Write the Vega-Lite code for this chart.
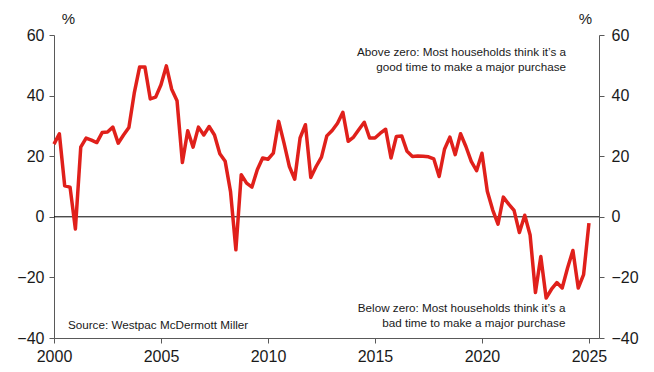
{
  "$schema": "https://vega.github.io/schema/vega-lite/v6.json",
  "width": 545,
  "height": 303,
  "autosize": {"type": "none"},
  "padding": {"left": 54, "top": 35, "right": 55, "bottom": 34},
  "background": "white",
  "config": {
    "view": {"stroke": null},
    "font": "Liberation Sans",
    "axis": {
      "domainColor": "#595959",
      "tickColor": "#595959",
      "tickSize": 5,
      "labelFontSize": 16,
      "labelColor": "#1a1a1a",
      "labelFont": "Liberation Sans",
      "titleFont": "Liberation Sans",
      "grid": false
    }
  },
  "data": {
    "values": [
      {"t": 2000.0, "v": 24}, {"t": 2000.25, "v": 27.4}, {"t": 2000.5, "v": 10.2}, {"t": 2000.75, "v": 9.8},
      {"t": 2001.0, "v": -4}, {"t": 2001.25, "v": 23}, {"t": 2001.5, "v": 26}, {"t": 2001.75, "v": 25.3},
      {"t": 2002.0, "v": 24.5}, {"t": 2002.25, "v": 27.8}, {"t": 2002.5, "v": 28}, {"t": 2002.75, "v": 29.6},
      {"t": 2003.0, "v": 24.3}, {"t": 2003.25, "v": 27}, {"t": 2003.5, "v": 29.5}, {"t": 2003.75, "v": 40.8},
      {"t": 2004.0, "v": 49.4}, {"t": 2004.25, "v": 49.4}, {"t": 2004.5, "v": 38.9}, {"t": 2004.75, "v": 39.5},
      {"t": 2005.0, "v": 43.6}, {"t": 2005.25, "v": 49.8}, {"t": 2005.5, "v": 42.1}, {"t": 2005.75, "v": 38.3},
      {"t": 2006.0, "v": 17.9}, {"t": 2006.25, "v": 28.4}, {"t": 2006.5, "v": 23}, {"t": 2006.75, "v": 29.6},
      {"t": 2007.0, "v": 27}, {"t": 2007.25, "v": 29.8}, {"t": 2007.5, "v": 27}, {"t": 2007.75, "v": 20.8},
      {"t": 2008.0, "v": 18.3}, {"t": 2008.25, "v": 8.3}, {"t": 2008.5, "v": -10.9}, {"t": 2008.75, "v": 13.9},
      {"t": 2009.0, "v": 11.1}, {"t": 2009.25, "v": 9.8}, {"t": 2009.5, "v": 15.5}, {"t": 2009.75, "v": 19.4},
      {"t": 2010.0, "v": 19}, {"t": 2010.25, "v": 21}, {"t": 2010.5, "v": 31.5}, {"t": 2010.75, "v": 24.3},
      {"t": 2011.0, "v": 16.6}, {"t": 2011.25, "v": 12.4}, {"t": 2011.5, "v": 26}, {"t": 2011.75, "v": 30.4},
      {"t": 2012.0, "v": 13}, {"t": 2012.25, "v": 16.6}, {"t": 2012.5, "v": 19.7}, {"t": 2012.75, "v": 26.7},
      {"t": 2013.0, "v": 28.5}, {"t": 2013.25, "v": 30.9}, {"t": 2013.5, "v": 34.5}, {"t": 2013.75, "v": 24.9},
      {"t": 2014.0, "v": 26.3}, {"t": 2014.25, "v": 28.8}, {"t": 2014.5, "v": 31.2}, {"t": 2014.75, "v": 26},
      {"t": 2015.0, "v": 26}, {"t": 2015.25, "v": 27.6}, {"t": 2015.5, "v": 28.9}, {"t": 2015.75, "v": 19.4},
      {"t": 2016.0, "v": 26.5}, {"t": 2016.25, "v": 26.7}, {"t": 2016.5, "v": 21.6}, {"t": 2016.75, "v": 19.9},
      {"t": 2017.0, "v": 20.1}, {"t": 2017.25, "v": 20}, {"t": 2017.5, "v": 19.8}, {"t": 2017.75, "v": 19.1},
      {"t": 2018.0, "v": 13.3}, {"t": 2018.25, "v": 22.3}, {"t": 2018.5, "v": 26.3}, {"t": 2018.75, "v": 20.5},
      {"t": 2019.0, "v": 27.4}, {"t": 2019.25, "v": 23.2}, {"t": 2019.5, "v": 18.3}, {"t": 2019.75, "v": 15.2},
      {"t": 2020.0, "v": 21}, {"t": 2020.25, "v": 8.4}, {"t": 2020.5, "v": 2.3}, {"t": 2020.75, "v": -2.4},
      {"t": 2021.0, "v": 6.5}, {"t": 2021.25, "v": 4.2}, {"t": 2021.5, "v": 2.1}, {"t": 2021.75, "v": -5.2},
      {"t": 2022.0, "v": 0.5}, {"t": 2022.25, "v": -6}, {"t": 2022.5, "v": -25}, {"t": 2022.75, "v": -13.1},
      {"t": 2023.0, "v": -26.8}, {"t": 2023.25, "v": -23.9}, {"t": 2023.5, "v": -21.7}, {"t": 2023.75, "v": -23.5},
      {"t": 2024.0, "v": -16.9}, {"t": 2024.25, "v": -11.1}, {"t": 2024.5, "v": -23.5}, {"t": 2024.75, "v": -19.1},
      {"t": 2025.0, "v": -2.1}
    ]
  },
  "layer": [
    {
      "data": {"values": [{}]},
      "mark": {"type": "rule", "color": "#000000", "strokeWidth": 1},
      "encoding": {
        "y": {
          "datum": 0,
          "type": "quantitative",
          "scale": {"domain": [-40, 60], "nice": false, "zero": false},
          "axis": {
            "orient": "right",
            "values": [-40, -20, 0, 20, 40, 60],
            "labelPadding": 7,
            "title": "%",
            "titleAngle": 0,
            "titleAlign": "center",
            "titleBaseline": "middle",
            "titleX": -14,
            "titleY": -17,
            "titleFontSize": 15,
            "titleFontWeight": "normal",
            "titleColor": "#1a1a1a"
          }
        }
      }
    },
    {
      "mark": {"type": "line", "color": "#e0201b", "strokeWidth": 3.5, "strokeJoin": "round"},
      "encoding": {
        "x": {
          "field": "t",
          "type": "quantitative",
          "scale": {"domain": [2000, 2025.47], "nice": false, "zero": false},
          "axis": {
            "orient": "bottom",
            "values": [2000, 2005, 2010, 2015, 2020, 2025],
            "format": "d",
            "labelPadding": 5,
            "labelFlush": false,
            "title": null
          }
        },
        "y": {
          "field": "v",
          "type": "quantitative",
          "scale": {"domain": [-40, 60], "nice": false, "zero": false},
          "axis": {
            "orient": "left",
            "values": [-40, -20, 0, 20, 40, 60],
            "labelPadding": 5,
            "title": "%",
            "titleAngle": 0,
            "titleAlign": "center",
            "titleBaseline": "middle",
            "titleX": 14,
            "titleY": -17,
            "titleFontSize": 15,
            "titleFontWeight": "normal",
            "titleColor": "#1a1a1a"
          }
        }
      }
    },
    {
      "data": {"values": [{}]},
      "mark": {"type": "text", "align": "right", "baseline": "top", "fontSize": 11.7, "lineHeight": 15, "color": "#1a1a1a",
        "text": ["Above zero: Most households think it’s a", "good time to make a major purchase"]},
      "encoding": {
        "x": {"datum": 2023.93, "type": "quantitative"},
        "y": {"datum": 56, "type": "quantitative", "axis": null}
      }
    },
    {
      "data": {"values": [{}]},
      "mark": {"type": "text", "align": "right", "baseline": "top", "fontSize": 11.7, "lineHeight": 15, "color": "#1a1a1a",
        "text": ["Below zero: Most households think it’s a", "bad time to make a major purchase"]},
      "encoding": {
        "x": {"datum": 2023.9, "type": "quantitative"},
        "y": {"datum": -28.3, "type": "quantitative", "axis": null}
      }
    },
    {
      "data": {"values": [{}]},
      "mark": {"type": "text", "align": "left", "baseline": "middle", "fontSize": 11.7, "color": "#1a1a1a",
        "text": "Source: Westpac McDermott Miller"},
      "encoding": {
        "x": {"datum": 2000.65, "type": "quantitative"},
        "y": {"datum": -35.6, "type": "quantitative", "axis": null}
      }
    }
  ],
  "resolve": {"axis": {"y": "independent"}}
}
